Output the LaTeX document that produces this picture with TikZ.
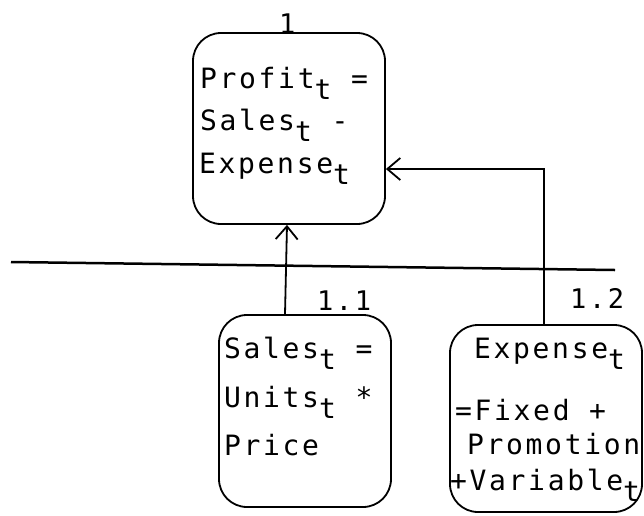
\documentclass[tikz,border=0pt]{standalone}
\usepackage{fontspec}
\usetikzlibrary{arrows.meta}
\newfontfamily\twfont[LetterSpace=9.5]{DejaVu Sans Mono}
\newcommand\sbt{\raisebox{-11pt}{t}}
\tikzset{
  box/.style={draw, line width=1.8pt, rounded corners=28pt, inner sep=0pt},
  txt/.style={anchor=base west, inner sep=0pt, font=\twfont\fontsize{28pt}{32pt}\selectfont},
  lbl/.style={anchor=base west, inner sep=0pt, font=\twfont\fontsize{27pt}{31pt}\selectfont},
  link/.style={line width=1.8pt, -{Straight Barb[length=13pt,width=22pt,line width=1.8pt]}},
}
\begin{document}
\begin{tikzpicture}[x=1pt,y=-1pt]
\useasboundingbox (0,0) rectangle (644,515);

% three equation boxes
\node[box, minimum width=192pt, minimum height=191pt] (profit) at (289,128.5) {};
\node[box, minimum width=172pt, minimum height=192pt] (sales) at (305,411) {};
\node[box, minimum width=192pt, minimum height=187pt] (expense) at (546,418.5) {};

% box numbers
\node[lbl] (n1) at (279,33) {1};
\node[lbl] (n11) at (317,310) {1.1};
\node[lbl] (n12) at (570,308) {1.2};

% profit equation
\node[txt] (p1) at (200,88) {Profit\sbt{} =};
\node[txt] (p2) at (200,130) {Sales\sbt{} -};
\node[txt] (p3) at (199,173) {Expense\sbt};

% sales equation
\node[txt] (s1) at (224,358) {Sales\sbt{}  =};
\node[txt] (s2) at (224,407) {Units\sbt{}  *};
\node[txt] (s3) at (224,455) {Price};

% expense equation
\node[txt] (e1) at (474,358) {Expense\sbt};
\node[txt] (e2) at (455,420) {=Fixed +};
\node[txt] (e3) at (467,454) {Promotion};
\node[txt] (e4) at (450,490) {+Variable\sbt};

% level separator
\draw[line width=2.5pt] (11,262) -- (615,270);

% connectors to the profit box
\draw[link] ([xshift=-20pt]sales.north) -- ([xshift=-2pt]profit.south);
\draw[link] ([xshift=-2pt]expense.north) |- ([yshift=-40.5pt]profit.east);
\end{tikzpicture}
\end{document}
